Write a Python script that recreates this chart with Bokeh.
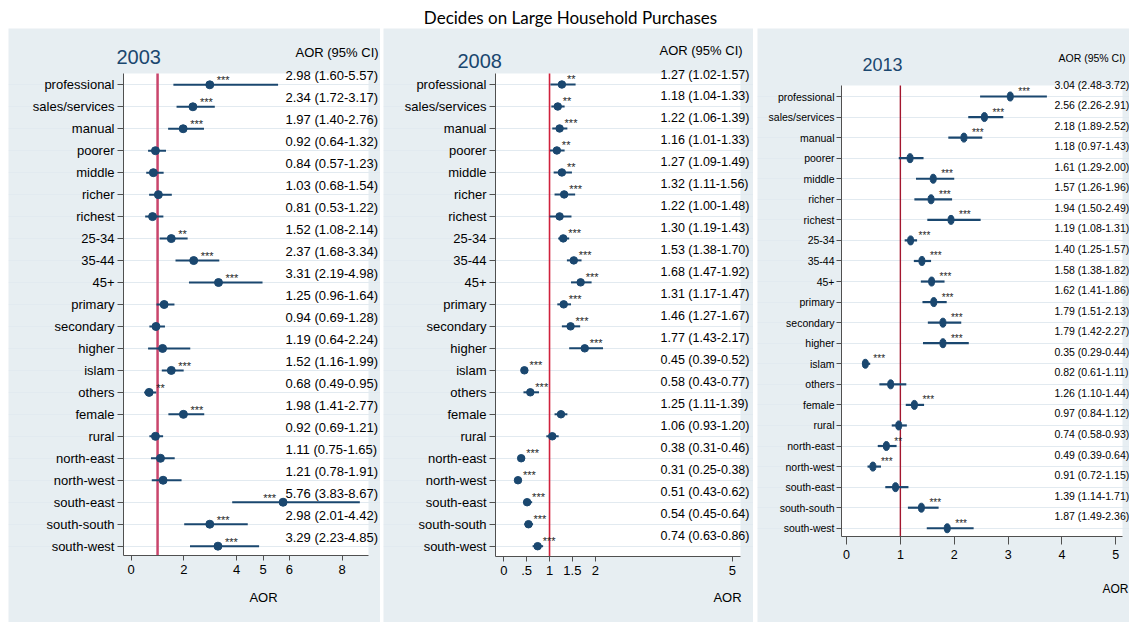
from bokeh.plotting import figure
from bokeh.models import Range1d, FixedTicker, BoxAnnotation, Spacer
from bokeh.layouts import column, row
from bokeh.embed import file_html
from bokeh.resources import INLINE
from bokeh.core.properties import value

# ---------------- data ----------------
categories = ["professional", "sales/services", "manual", "poorer", "middle", "richer",
              "richest", "25-34", "35-44", "45+", "primary", "secondary", "higher",
              "islam", "others", "female", "rural", "north-east", "north-west",
              "south-east", "south-south", "south-west"]

aor_2003 = [2.98, 2.34, 1.97, 0.92, 0.84, 1.03, 0.81, 1.52, 2.37, 3.31, 1.25, 0.94, 1.19,
            1.52, 0.68, 1.98, 0.92, 1.11, 1.21, 5.76, 2.98, 3.29]
lo_2003 = [1.60, 1.72, 1.40, 0.64, 0.57, 0.68, 0.53, 1.08, 1.68, 2.19, 0.96, 0.69, 0.64,
           1.16, 0.49, 1.41, 0.69, 0.75, 0.78, 3.83, 2.01, 2.23]
hi_2003 = [5.57, 3.17, 2.76, 1.32, 1.23, 1.54, 1.22, 2.14, 3.34, 4.98, 1.64, 1.28, 2.24,
           1.99, 0.95, 2.77, 1.21, 1.65, 1.91, 8.67, 4.42, 4.85]
stars_2003 = ["***", "***", "***", "", "", "", "", "**", "***", "***", "", "", "",
              "***", "**", "***", "", "", "", "***", "***", "***"]

aor_2008 = [1.27, 1.18, 1.22, 1.16, 1.27, 1.32, 1.22, 1.30, 1.53, 1.68, 1.31, 1.46, 1.77,
            0.45, 0.58, 1.25, 1.06, 0.38, 0.31, 0.51, 0.54, 0.74]
lo_2008 = [1.02, 1.04, 1.06, 1.01, 1.09, 1.11, 1.00, 1.19, 1.38, 1.47, 1.17, 1.27, 1.43,
           0.39, 0.43, 1.11, 0.93, 0.31, 0.25, 0.43, 0.45, 0.63]
hi_2008 = [1.57, 1.33, 1.39, 1.33, 1.49, 1.56, 1.48, 1.43, 1.70, 1.92, 1.47, 1.67, 2.17,
           0.52, 0.77, 1.39, 1.20, 0.46, 0.38, 0.62, 0.64, 0.86]
stars_2008 = ["**", "**", "***", "**", "**", "***", "", "***", "***", "***", "***", "***",
              "***", "***", "***", "", "", "***", "***", "***", "***", "***"]

aor_2013 = [3.04, 2.56, 2.18, 1.18, 1.61, 1.57, 1.94, 1.19, 1.40, 1.58, 1.62, 1.79, 1.79,
            0.35, 0.82, 1.26, 0.97, 0.74, 0.49, 0.91, 1.39, 1.87]
lo_2013 = [2.48, 2.26, 1.89, 0.97, 1.29, 1.26, 1.50, 1.08, 1.25, 1.38, 1.41, 1.51, 1.42,
           0.29, 0.61, 1.10, 0.84, 0.58, 0.39, 0.72, 1.14, 1.49]
hi_2013 = [3.72, 2.91, 2.52, 1.43, 2.00, 1.96, 2.49, 1.31, 1.57, 1.82, 1.86, 2.13, 2.27,
           0.44, 1.11, 1.44, 1.12, 0.93, 0.64, 1.15, 1.71, 2.36]
stars_2013 = ["***", "***", "***", "", "***", "***", "***", "***", "***", "***", "***",
              "***", "***", "***", "", "***", "", "**", "***", "", "***", "***"]

ticks_2003 = [0, 2, 4, 5, 6, 8]
tick_labels_2003 = ["0", "2", "4", "5", "6", "8"]
ticks_2008 = [0, 0.5, 1, 1.5, 2, 5]
tick_labels_2008 = ["0", ".5", "1", "1.5", "2", "5"]
ticks_2013 = [0, 1, 2, 3, 4, 5]
tick_labels_2013 = ["0", "1", "2", "3", "4", "5"]

reference_aor = 1
title_text = "Decides on Large Household Purchases"
header_text = "AOR (95% CI)"
axis_text = "AOR"

# ---------------- style ----------------
FONT = "Liberation Sans"
BG = "#e7eef2"
NAVY = "#1a476f"
GRID = "#e2eaf0"
AXIS = "#505050"
TOP = 28          # panels start below the title strip
H = 594           # panel height


def make_panel(year, aor, lo, hi, stars, ticks, tick_labels, c):
    n = len(categories)
    ypos = [n - 1 - i for i in range(n)]

    def X(px):   # page pixel -> data x
        return (px - c["zero"]) / c["ppu"]

    def Y(py):   # page pixel -> row coordinate
        return (n - 1) - (py - c["prof"]) / c["row"]

    wl, wr, wt, wb = X(c["wl"]), X(c["wr"]), Y(c["wt"]), Y(c["wb"])

    p = figure(width=c["w"], height=H, output_backend="svg", toolbar_location=None,
               x_range=Range1d(X(c["left"]), X(c["left"] + c["w"])),
               y_range=Range1d(Y(TOP + H), Y(TOP)), min_border=0)
    p.border_fill_color = BG
    p.background_fill_color = BG
    p.outline_line_color = None

    # white plot region
    p.add_layout(BoxAnnotation(left=wl, right=wr, top=wt, bottom=wb, fill_color="white",
                               fill_alpha=1, line_color=None, level="image"))

    p.xgrid.visible = False
    p.ygrid.ticker = FixedTicker(ticks=ypos)
    p.ygrid.grid_line_color = GRID
    p.ygrid.grid_line_width = 1.2
    p.ygrid.bounds = (wl, wr)

    for ax in (p.xaxis[0], p.yaxis[0]):
        ax.axis_line_color = AXIS
        ax.major_tick_line_color = AXIS
        ax.minor_tick_line_color = None
        ax.major_tick_in = 0
        ax.major_label_text_font = FONT
        ax.major_label_text_color = "black"

    yax = p.yaxis[0]
    yax.fixed_location = wl
    yax.bounds = (wb, wt)
    yax.ticker = FixedTicker(ticks=ypos)
    yax.major_label_overrides = {y: cat for y, cat in zip(ypos, categories)}
    yax.major_label_text_font_size = c["yfs"]
    yax.major_tick_out = c["ytick"]
    yax.major_label_standoff = c["ystand"]

    xax = p.xaxis[0]
    xax.fixed_location = wb
    xax.bounds = (wl, wr)
    xax.ticker = FixedTicker(ticks=ticks)
    xax.major_label_overrides = {t: l for t, l in zip(ticks, tick_labels)}
    xax.major_label_text_font_size = c["xfs"]
    xax.major_tick_out = c["xtick"]
    xax.major_label_standoff = c["xstand"]

    # reference line
    p.segment(x0=[reference_aor], y0=[wb], x1=[reference_aor], y1=[wt],
              line_color=c["red"], line_width=c["redw"])

    # CIs and point estimates
    p.segment(x0=lo, y0=ypos, x1=hi, y1=ypos, line_color=NAVY, line_width=c["ciw"])
    if c["ell"]:
        p.ellipse(x=aor, y=ypos, width=c["ew"], height=c["eh"], width_units="screen",
                  height_units="screen", fill_color=NAVY, line_color=NAVY)
    else:
        p.scatter(x=aor, y=ypos, size=c["ms"], fill_color=NAVY, line_color=NAVY)

    # significance stars (offsets given in page pixels, upward = negative)
    lx = X(c["lx"])
    sdy = -c["sdy"] / c["row"]
    right = [(a, y + sdy, s) for a, y, s in zip(aor, ypos, stars) if s and a < lx - 0.6]
    left = [(a, y + sdy, s) for a, y, s in zip(aor, ypos, stars) if s and a >= lx - 0.6]
    if right:
        p.text(x=[r[0] for r in right], y=[r[1] for r in right], text=[r[2] for r in right],
               x_offset=c["sdx"], text_font=value(FONT), text_font_size=c["sfs"],
               text_align="left", text_baseline="middle", text_color="#1e1e1e")
    if left:
        p.text(x=[r[0] for r in left], y=[r[1] for r in left], text=[r[2] for r in left],
               x_offset=-c["sdx"], text_font=value(FONT), text_font_size=c["sfs"],
               text_align="right", text_baseline="middle", text_color="#1e1e1e")

    # AOR (95% CI) column
    labels = [f"{a:.2f} ({l:.2f}-{h:.2f})" for a, l, h in zip(aor, lo, hi)]
    ldy = -c["ldy"] / c["row"]
    p.text(x=[lx] * n, y=[y + ldy for y in ypos], text=labels, text_font=value(FONT),
           text_font_size=c["lfs"], text_align="left", text_baseline="middle",
           text_color="black")

    # headers and axis title
    p.text(x=[X(c["yrx"])], y=[Y(c["yry"])], text=[year], text_font=value(FONT),
           text_font_size=c["yrfs"], text_color=NAVY, text_align="left",
           text_baseline="middle")
    p.text(x=[X(c["hx"])], y=[Y(c["hy"])], text=[header_text], text_font=value(FONT),
           text_font_size=c["hfs"], text_color="black", text_align="left",
           text_baseline="middle")
    p.text(x=[X(c["ax"])], y=[Y(c["ay"])], text=[axis_text], text_font=value(FONT),
           text_font_size=c["afs"], text_color="black", text_align="center",
           text_baseline="middle")
    return p


c1 = dict(left=8, w=372, zero=130.7, ppu=26.37, prof=84.3, row=21.97,
          wl=123, wr=368, wt=73, wb=555,
          yfs="13px", ytick=6, ystand=3, xfs="13px", xtick=5, xstand=4,
          red="#c9456c", redw=2.5, ciw=2, ell=False, ms=8,
          sdy=-4.5, sdx=7, sfs="11px", lx=285, ldy=-9, lfs="13px",
          yrx=116, yry=56, yrfs="20px", hx=295, hy=52, hfs="13px",
          ax=263, ay=597, afs="13px")
c2 = dict(left=383, w=370, zero=503.3, ppu=45.73, prof=84, row=21.986,
          wl=495, wr=740, wt=73, wb=556,
          yfs="13px", ytick=6, ystand=3, xfs="13px", xtick=5, xstand=4,
          red="#d0213c", redw=1.6, ciw=2, ell=False, ms=7.5,
          sdy=-5.5, sdx=5, sfs="11px", lx=660, ldy=-10, lfs="12.5px",
          yrx=457, yry=60, yrfs="20px", hx=659, hy=50, hfs="13px",
          ax=727, ay=597, afs="13px")
c3 = dict(left=757, w=372, zero=846, ppu=53.87, prof=96, row=20.56,
          wl=841, wr=1122, wt=85, wb=536,
          yfs="10.5px", ytick=5, ystand=2, xfs="12.5px", xtick=8, xstand=5,
          red="#a3162e", redw=1.4, ciw=2.2, ell=True, ew=6, eh=9,
          sdy=-5, sdx=8, sfs="10px", lx=1054, ldy=-12, lfs="10.5px",
          yrx=862, yry=64, yrfs="18px", hx=1058, hy=57, hfs="10.5px",
          ax=1115, ay=588, afs="12px")

p1 = make_panel("2003", aor_2003, lo_2003, hi_2003, stars_2003, ticks_2003,
                tick_labels_2003, c1)
p2 = make_panel("2008", aor_2008, lo_2008, hi_2008, stars_2008, ticks_2008,
                tick_labels_2008, c2)
p3 = make_panel("2013", aor_2013, lo_2013, hi_2013, stars_2013, ticks_2013,
                tick_labels_2013, c3)

t = figure(width=1129, height=TOP, output_backend="svg", toolbar_location=None,
           x_range=Range1d(0, 1129), y_range=Range1d(TOP, 0), min_border=0,
           x_axis_location=None, y_axis_location=None)
t.grid.visible = False
t.outline_line_color = None
t.text(x=[570], y=[17], text=[title_text], text_align="center", text_baseline="middle",
       text_font=value("Lato"), text_font_size="17px", text_color="black")

panels = row(Spacer(width=8, height=H), p1, Spacer(width=3, height=H), p2,
             Spacer(width=4, height=H), p3, spacing=0)
layout = column(t, panels, spacing=0)

open("out.html", "w").write(file_html(layout, INLINE))
